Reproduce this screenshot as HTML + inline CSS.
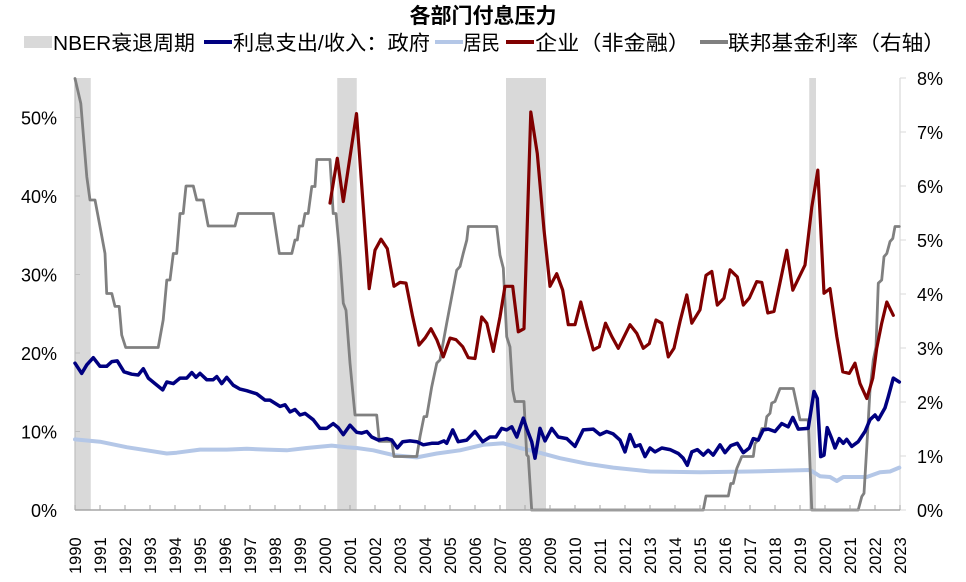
<!DOCTYPE html>
<html><head><meta charset="utf-8">
<style>
html,body{margin:0;padding:0;background:#fff;}
body{width:966px;height:582px;overflow:hidden;position:relative;font-family:"Liberation Sans","Noto Sans CJK SC",sans-serif;}
svg{position:absolute;left:0;top:0;}
</style></head>
<body>
<svg id="chart" width="966" height="582" xmlns="http://www.w3.org/2000/svg"></svg>
<script>
// ---- data ----
const recessionStart = [1990.0, 2000.49, 2007.24, 2019.37];
const recessionEnd   = [1990.63, 2001.27, 2008.84, 2019.64];

const fedYears = [1990.00,1990.23,1990.33,1990.47,1990.60,1990.80,1991.00,1991.20,1991.27,1991.47,1991.60,1991.77,1991.87,1992.03,1993.33,1993.53,1993.67,1993.80,1993.93,1994.07,1994.20,1994.33,1994.44,1994.73,1994.87,1995.13,1995.33,1996.40,1996.53,1997.93,1998.17,1998.67,1998.80,1998.89,1998.97,1999.11,1999.20,1999.33,1999.47,1999.60,1999.67,2000.20,2000.33,2000.44,2000.60,2000.73,2000.84,2001.00,2001.20,2002.07,2002.17,2002.67,2002.76,2003.67,2003.80,2003.96,2004.07,2004.27,2004.47,2004.60,2004.87,2005.07,2005.27,2005.40,2005.53,2005.67,2005.73,2006.87,2007.00,2007.13,2007.27,2007.40,2007.51,2007.60,2007.96,2008.07,2008.13,2008.27,2015.13,2015.24,2016.13,2016.23,2016.33,2016.47,2016.67,2017.13,2017.20,2017.33,2017.47,2017.60,2017.67,2017.80,2017.87,2018.00,2018.20,2018.73,2019.00,2019.33,2019.47,2021.33,2021.47,2021.56,2021.67,2021.80,2021.93,2022.04,2022.13,2022.27,2022.36,2022.47,2022.60,2022.71,2022.80,2022.97];
const fedRates = [7.99,7.53,6.98,6.17,5.74,5.74,5.25,4.75,4.01,4.01,3.77,3.77,3.24,3.01,3.01,3.52,4.26,4.26,4.75,4.75,5.49,5.49,6.0,6.0,5.74,5.74,5.26,5.26,5.49,5.49,4.75,4.75,5.0,5.0,5.26,5.26,5.49,5.49,5.99,5.99,6.49,6.49,5.49,5.49,4.69,3.83,3.70,2.72,1.76,1.76,1.27,1.27,0.99,0.99,1.36,1.73,1.73,2.28,2.72,2.78,3.46,3.95,4.44,4.51,4.75,5.0,5.25,5.25,4.72,4.48,3.21,3.02,2.22,2.01,2.01,1.02,0.99,0,0,0.26,0.26,0.49,0.49,0.77,0.99,0.99,1.23,1.30,1.51,1.51,1.73,1.79,1.98,2.01,2.25,2.25,1.67,1.67,0,0,0.25,0.31,1.17,2.22,2.78,3.02,4.2,4.26,4.69,4.75,4.97,5.03,5.25,5.25];

const corpYears = [2000.2,2000.49,2000.73,2001.26,2001.77,2002.0,2002.24,2002.49,2002.76,2003.0,2003.24,2003.51,2003.76,2004.0,2004.24,2004.47,2004.73,2005.0,2005.24,2005.51,2005.73,2006.0,2006.27,2006.47,2006.73,2007.0,2007.2,2007.51,2007.73,2007.96,2008.23,2008.49,2008.76,2009.0,2009.27,2009.51,2009.73,2010.0,2010.23,2010.47,2010.73,2010.97,2011.22,2011.47,2011.73,2012.2,2012.47,2012.73,2012.97,2013.24,2013.47,2013.73,2013.96,2014.2,2014.47,2014.67,2015.0,2015.24,2015.47,2015.69,2015.96,2016.2,2016.49,2016.73,2016.97,2017.27,2017.47,2017.71,2017.96,2018.47,2018.71,2019.2,2019.47,2019.71,2019.96,2020.2,2020.47,2020.71,2020.97,2021.2,2021.4,2021.67,2021.91,2022.07,2022.27,2022.47,2022.73];
const corpValues = [39.1,44.8,39.3,50.5,28.2,33.1,34.5,33.3,28.5,29.0,28.9,24.6,21.0,21.9,23.1,21.7,19.5,21.9,21.7,20.8,19.4,19.3,24.6,23.8,20.2,24.6,28.5,28.5,22.7,23.1,50.7,45.4,35.7,28.5,30.1,28.0,23.6,23.6,26.5,23.4,20.4,20.8,23.8,22.1,20.6,23.6,22.5,20.6,21.2,24.2,23.8,19.5,20.6,24.0,27.4,23.8,25.5,29.9,30.4,26.1,27.0,30.6,29.7,26.1,27.0,29.1,29.0,25.1,25.3,33.1,28.0,31.2,38.6,43.3,27.6,28.2,22.1,17.6,17.4,18.7,16.1,14.2,16.8,20.6,23.8,26.5,24.8];

const govYears = [1990.0,1990.27,1990.47,1990.73,1991.0,1991.27,1991.47,1991.69,1991.96,1992.27,1992.53,1992.73,1992.93,1993.2,1993.51,1993.67,1993.93,1994.2,1994.47,1994.67,1994.84,1995.0,1995.27,1995.53,1995.67,1995.87,1996.07,1996.33,1996.6,1996.87,1997.27,1997.6,1997.8,1998.2,1998.4,1998.6,1998.8,1999.0,1999.2,1999.53,1999.8,2000.07,2000.33,2000.53,2000.73,2001.0,2001.27,2001.47,2001.67,2001.87,2002.13,2002.47,2002.67,2002.89,2003.11,2003.4,2003.67,2003.93,2004.27,2004.53,2004.76,2004.87,2005.11,2005.33,2005.67,2006.0,2006.31,2006.6,2006.84,2007.07,2007.27,2007.47,2007.67,2007.93,2008.09,2008.27,2008.4,2008.6,2008.8,2009.07,2009.33,2009.67,2010.0,2010.33,2010.73,2011.0,2011.27,2011.53,2011.8,2012.0,2012.2,2012.4,2012.6,2012.8,2013.0,2013.2,2013.47,2013.8,2014.13,2014.33,2014.49,2014.67,2014.89,2015.13,2015.33,2015.53,2015.8,2016.0,2016.23,2016.49,2016.73,2016.97,2017.13,2017.33,2017.53,2017.73,2018.0,2018.27,2018.53,2018.71,2018.93,2019.33,2019.56,2019.69,2019.83,2019.96,2020.09,2020.27,2020.4,2020.57,2020.73,2020.87,2021.07,2021.33,2021.6,2021.8,2022.0,2022.13,2022.4,2022.53,2022.73,2022.97];
const govValues = [18.7,17.4,18.5,19.4,18.3,18.3,18.9,19.0,17.6,17.3,17.2,18.0,16.8,16.1,15.3,16.3,16.1,16.8,16.8,17.5,16.9,17.4,16.6,16.6,17.0,16.1,16.9,15.9,15.4,15.2,14.8,14.0,14.0,13.2,13.4,12.5,12.8,12.1,12.3,11.5,10.4,10.4,11.0,10.5,9.6,10.8,9.9,9.8,10.0,9.3,8.9,9.1,8.9,7.9,8.7,8.8,8.7,8.3,8.5,8.5,8.8,8.5,10.2,8.7,8.9,10.0,8.7,9.3,9.3,10.4,10.2,10.6,9.3,11.7,10.2,8.7,6.6,10.4,8.8,10.4,9.3,9.1,8.1,10.2,10.3,9.6,10.0,9.7,8.9,7.4,9.6,8.1,8.3,6.8,7.9,7.4,7.9,7.7,7.2,6.6,5.7,7.4,7.7,7.0,7.6,7.0,8.3,7.3,8.2,8.5,7.3,7.9,9.1,8.9,10.2,10.3,10.0,11.0,10.6,11.8,10.3,10.4,15.1,14.2,6.8,7.0,10.5,9.1,7.9,9.1,8.5,9.0,8.1,8.7,10.0,11.5,12.1,11.5,13.0,14.4,16.8,16.3];

const hhYears = [1990.0,1991.0,1992.07,1992.87,1993.67,1994.07,1995.0,1996.07,1996.87,1997.67,1998.47,1999.27,2000.27,2000.87,2001.27,2001.93,2002.73,2003.67,2004.47,2005.4,2006.33,2007.13,2007.8,2008.47,2009.4,2010.47,2011.53,2013.0,2015.0,2017.0,2018.2,2019.4,2019.8,2020.2,2020.47,2020.73,2021.67,2022.2,2022.6,2022.97];
const hhValues = [9.0,8.7,8.0,7.6,7.2,7.3,7.7,7.7,7.8,7.7,7.6,7.9,8.2,8.0,7.9,7.6,7.0,6.7,7.2,7.6,8.3,8.5,7.9,7.4,6.6,5.9,5.4,4.9,4.8,4.9,5.0,5.1,4.3,4.2,3.7,4.2,4.2,4.8,4.9,5.4];

const yearLabels = [];
for (let y = 1990; y <= 2023; y++) yearLabels.push(String(y));
const leftTicks = [0,10,20,30,40,50];
const rightTicks = [0,1,2,3,4,5,6,7,8];

// ---- axes ----
const X0 = 75, X1 = 900, Y0 = 510;
const xScale = yr => X0 + (yr - 1990) * 25;
const yLeft = v => Y0 - v * 7.85;
const yRight = v => Y0 - v * 54;

const svg = document.getElementById('chart');
const NS = 'http://www.w3.org/2000/svg';
function mk(tag, attrs, parent) {
  const e = document.createElementNS(NS, tag);
  for (const k in attrs) e.setAttribute(k, attrs[k]);
  (parent || svg).appendChild(e);
  return e;
}

// title
let t = mk('text', {x: 483, y: 23, 'text-anchor': 'middle', 'font-size': 21, 'font-weight': 'bold', fill: '#000'});
t.textContent = '各部门付息压力';



// legend
const legend = mk('g', {});


const legItems = [
  {type: 'box', x: 24, tx: 53, w: 142, label: 'NBER衰退周期', color: '#d9d9d9', name: 'legend-recession'},
  {type: 'line', x: 204, tx: 233, w: 197, label: '利息支出/收入：政府', color: '#000080', name: 'legend-government'},
  {type: 'line', x: 435, tx: 463, w: 37, label: '居民', color: '#b4c7e7', name: 'legend-household'},
  {type: 'line', x: 506, tx: 535, w: 155, label: '企业（非金融）', color: '#800000', name: 'legend-corporate'},
  {type: 'line', x: 700, tx: 728, w: 217, label: '联邦基金利率（右轴）', color: '#808080', name: 'legend-fed-funds'}
];
legItems.forEach(it => {
  const g = mk('g', {}, legend);
  
  
  if (it.type === 'box') mk('rect', {x: it.x, y: 36, width: 28, height: 12, fill: it.color}, g);
  else mk('line', {x1: it.x, x2: it.x + 28, y1: 42, y2: 42, stroke: it.color, 'stroke-width': 4}, g);
  const tx = mk('text', {x: it.tx, y: 50, 'font-size': 20.5, fill: '#000', textLength: it.w, lengthAdjust: 'spacingAndGlyphs'}, g);
  tx.textContent = it.label;
});

// recessions
for (let i = 0; i < recessionStart.length; i++) {
  const r = mk('rect', {x: xScale(recessionStart[i]), y: 78, width: xScale(recessionEnd[i]) - xScale(recessionStart[i]), height: Y0 - 78, fill: '#d9d9d9'});
  
  
}

// axes lines
let a = mk('line', {x1: X0, x2: X0, y1: 78, y2: Y0, stroke: '#bfbfbf', 'stroke-width': 1.2});


a = mk('line', {x1: X1, x2: X1, y1: 78, y2: Y0, stroke: '#d9d9d9', 'stroke-width': 1.2});



leftTicks.forEach(v => {
  mk('line', {x1: X0, x2: X0 + 5, y1: yLeft(v), y2: yLeft(v), stroke: '#bfbfbf'});
  const lt = mk('text', {x: 57, y: yLeft(v) + 7, 'text-anchor': 'end', 'font-size': 18, fill: '#000'});
  lt.textContent = v + '%';
  
  
});
rightTicks.forEach(v => {
  mk('line', {x1: X1, x2: X1 + 6, y1: yRight(v), y2: yRight(v), stroke: '#d9d9d9'});
  const rt = mk('text', {x: 917, y: yRight(v) + 7, 'font-size': 18, fill: '#000'});
  rt.textContent = v + '%';
  
  
});

// series
function path(xs, ys, yfn, color, w, name) {
  let d = '';
  xs.forEach((x, i) => { d += (i ? 'L' : 'M') + xScale(x).toFixed(1) + ',' + yfn(ys[i]).toFixed(1); });
  const p = mk('path', {d: d, fill: 'none', stroke: color, 'stroke-width': w, 'stroke-linejoin': 'round', 'stroke-linecap': 'round'});
  
  
}
path(hhYears, hhValues, yLeft, '#b4c7e7', 4, 'household-line');
path(fedYears, fedRates, yRight, '#808080', 2.8, 'fed-funds-line');
path(corpYears, corpValues, yLeft, '#800000', 3.2, 'corporate-line');
path(govYears, govValues, yLeft, '#000080', 3.5, 'government-line');

// bottom axis
a = mk('line', {x1: X0, x2: X1, y1: Y0, y2: Y0, stroke: '#a6a6a6', 'stroke-width': 1.5});


yearLabels.forEach((lab, i) => {
  const x = xScale(1990 + i);
  mk('line', {x1: x, x2: x, y1: Y0, y2: Y0 - 5, stroke: '#a6a6a6'});
  const xt = mk('text', {x: x + 6, y: 574, 'font-size': 16.5, fill: '#000', transform: 'rotate(-90 ' + (x + 6) + ' 574)'});
  xt.textContent = lab;
  
  
});
</script>
</body></html>
